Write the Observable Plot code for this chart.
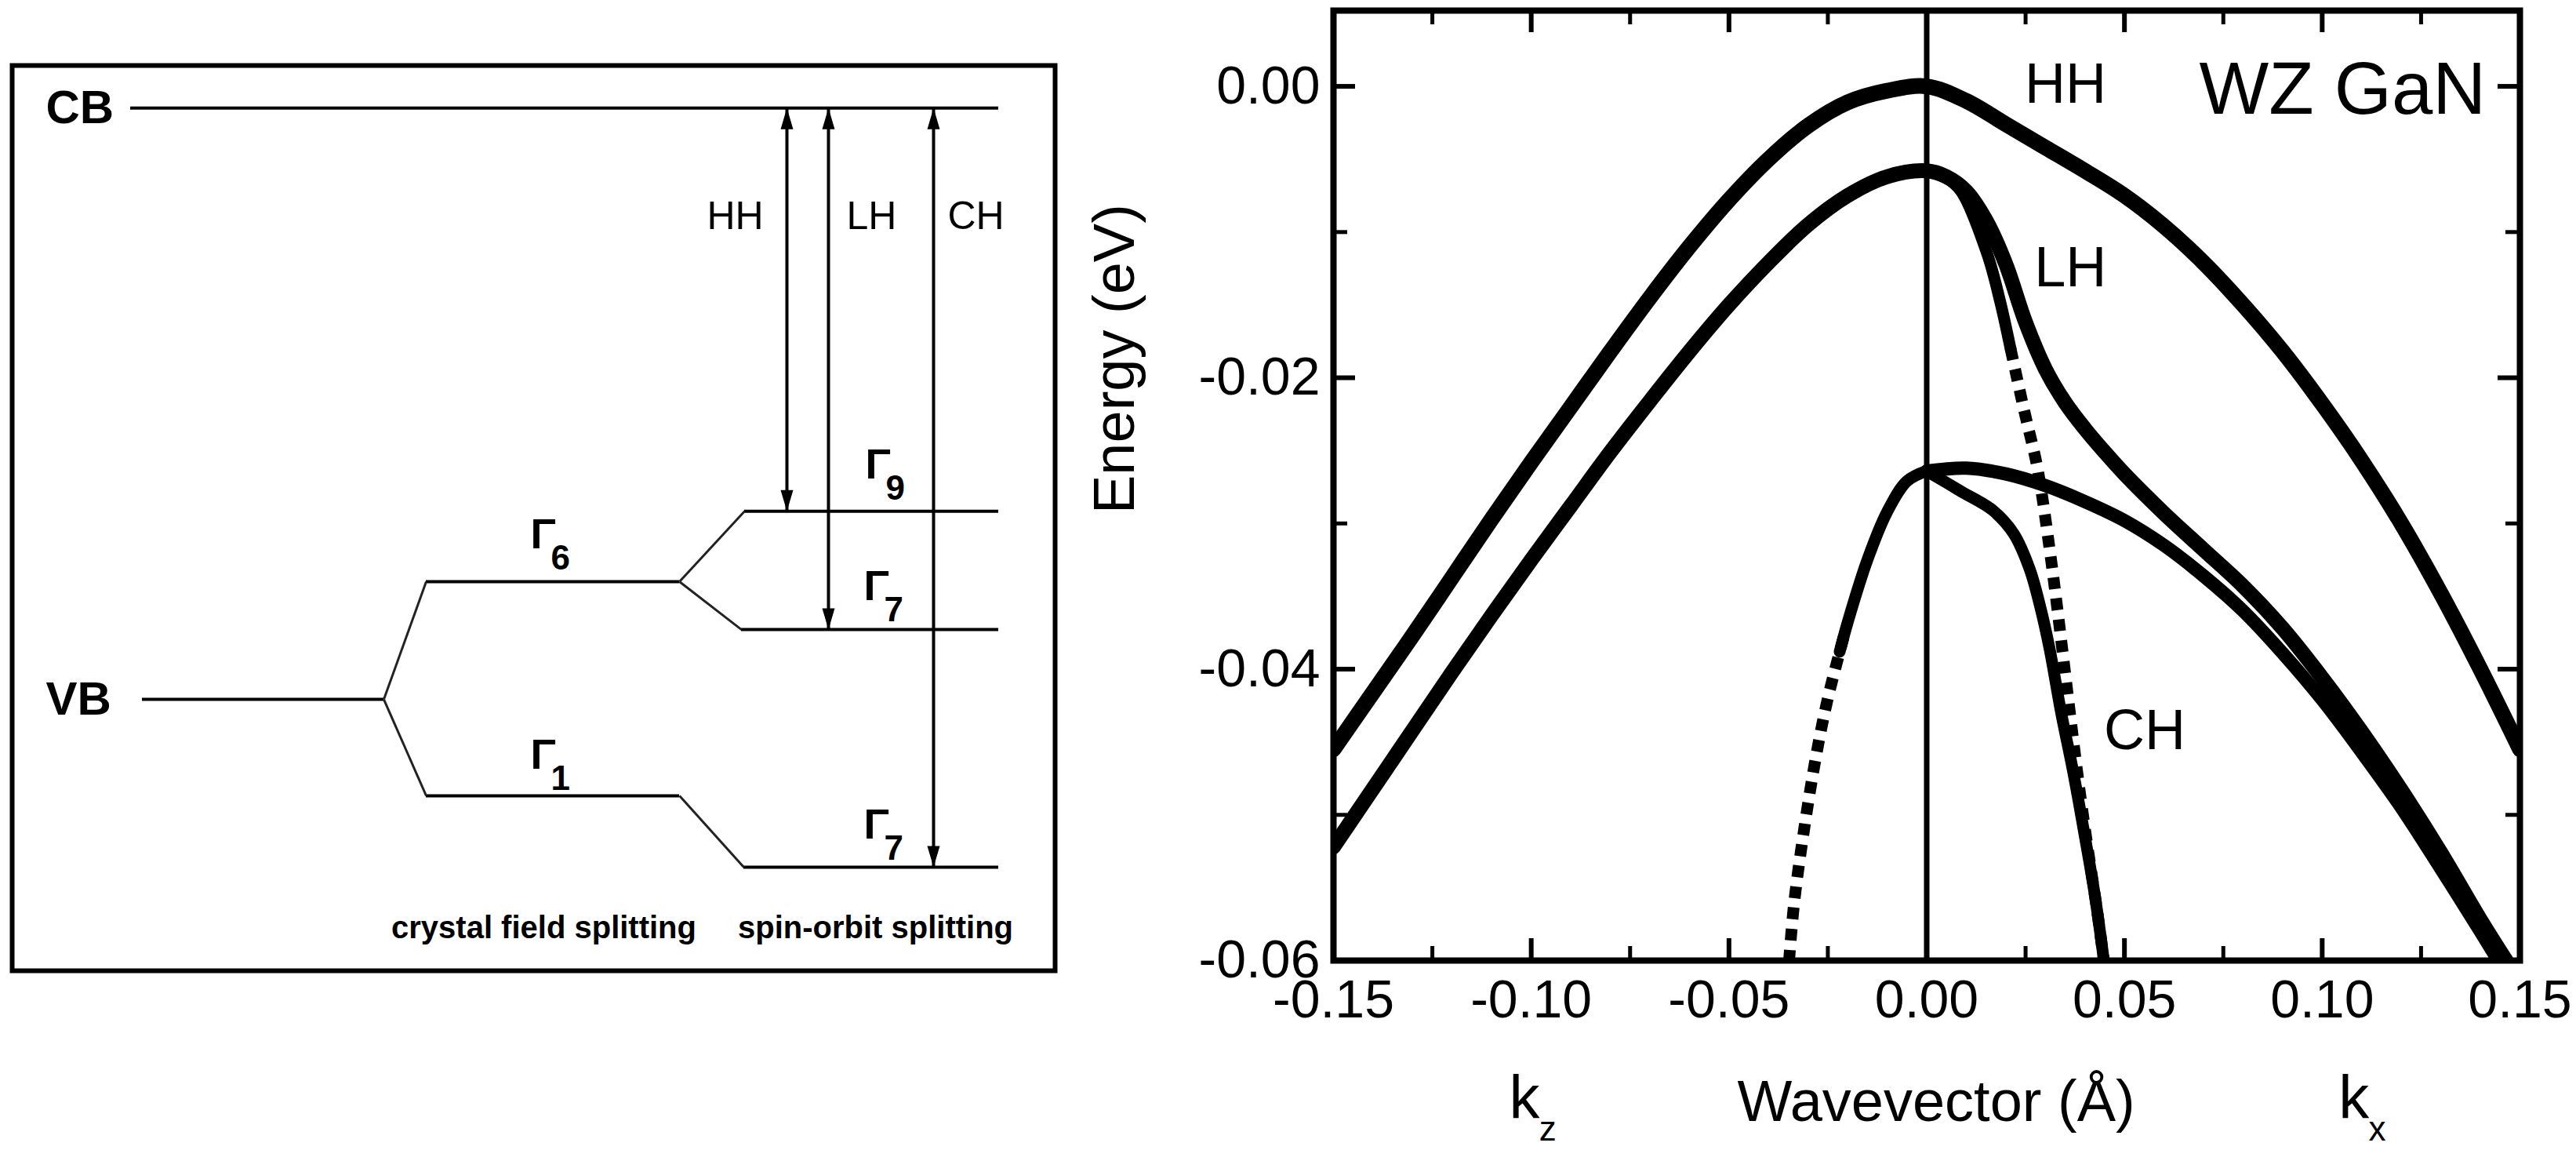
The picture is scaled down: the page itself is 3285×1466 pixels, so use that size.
<!DOCTYPE html>
<html><head><meta charset="utf-8">
<script src="https://cdn.jsdelivr.net/npm/d3@7"></script>
<script src="https://cdn.jsdelivr.net/npm/@observablehq/plot@0.6"></script>
<style>
html,body{margin:0;padding:0;background:#fff;}
#wrap{position:relative;width:3285px;height:1466px;overflow:hidden;background:#fff;}
#wrap svg{position:absolute;top:0;}
</style></head><body><div id="wrap"></div>
<script>
// ===== Left panel: schematic level diagram (diagram units; energy in arbitrary units) =====
const levelId = ["CB", "VB", "G6", "G1", "G9", "G7a", "G7b"];
const levelE  = [100, 0, 19.9, -16.3, 31.8, 11.8, -28.4];
const levelX1 = [151, 166, 528, 528, 934, 930, 933];
const levelX2 = [1258, 474, 851, 851, 1258, 1258, 1258];
const splitFrom = ["VB", "VB", "G6", "G6", "G1"];
const splitTo   = ["G6", "G1", "G9", "G7a", "G7b"];
const gapNames = ["HH", "LH", "CH"];
const gapTo    = ["G9", "G7a", "G7b"];
const gapX     = [988, 1041, 1175];
const gapLabelX = [922, 1096, 1229];
const gammaSub = ["6", "1", "9", "7", "7"];
const gammaX   = [661, 661, 1088, 1086, 1086];
const gammaE   = [25.6, -11.7, 37.3, 16.8, -23.5];
const bandNames = ["CB", "VB"];
const bandE = [100, 0];
const stageNames = ["crystal field splitting", "spin-orbit splitting"];
const stageX = [678, 1101];

// ===== Right panel: WZ GaN valence bands, [k (1/Å), E (eV)] =====
const HH = [[-0.15,-0.0455],[-0.14,-0.0416],[-0.13,-0.0377],[-0.12,-0.0337],[-0.11,-0.0297],[-0.10,-0.0258],[-0.09,-0.0220],[-0.08,-0.0182],[-0.07,-0.0145],[-0.06,-0.0110],[-0.05,-0.0078],[-0.04,-0.0050],[-0.03,-0.0027],[-0.02,-0.0011],[-0.01,-0.0003],[0,0],[0.01,-0.0010],[0.02,-0.0026],[0.03,-0.0042],[0.04,-0.0058],[0.05,-0.0075],[0.06,-0.0096],[0.07,-0.0121],[0.08,-0.0150],[0.09,-0.0182],[0.10,-0.0218],[0.11,-0.0257],[0.12,-0.0300],[0.13,-0.0348],[0.14,-0.0400],[0.15,-0.0455]];
const LH = [[-0.15,-0.0522],[-0.14,-0.0482],[-0.13,-0.0442],[-0.12,-0.0402],[-0.11,-0.0363],[-0.10,-0.0325],[-0.09,-0.0288],[-0.08,-0.0251],[-0.07,-0.0216],[-0.06,-0.0182],[-0.05,-0.0150],[-0.04,-0.0121],[-0.03,-0.0095],[-0.02,-0.0075],[-0.01,-0.0062],[0,-0.0058],[0.005,-0.0062],[0.01,-0.0072],[0.015,-0.0092],[0.02,-0.0122],[0.025,-0.0162],[0.03,-0.0194],[0.035,-0.0217],[0.04,-0.0235],[0.045,-0.0251],[0.05,-0.0266],[0.06,-0.0293],[0.07,-0.0318],[0.08,-0.0343],[0.09,-0.0372],[0.10,-0.0406],[0.11,-0.0443],[0.12,-0.0483],[0.13,-0.0526],[0.14,-0.0572],[0.1465,-0.0600]];
const CHkx = [[0,-0.0264],[0.01,-0.0262],[0.02,-0.0266],[0.03,-0.0274],[0.04,-0.0285],[0.05,-0.0298],[0.06,-0.0315],[0.07,-0.0336],[0.08,-0.0360],[0.09,-0.0389],[0.10,-0.0421],[0.11,-0.0457],[0.12,-0.0495],[0.13,-0.0537],[0.14,-0.0580],[0.1445,-0.0600]];
const CHkxInner = [[0,-0.0264],[0.0087,-0.0278],[0.0167,-0.0291],[0.022,-0.0307],[0.026,-0.0331],[0.0286,-0.0356],[0.031,-0.0385],[0.034,-0.0430],[0.037,-0.0470],[0.040,-0.0515],[0.0425,-0.0555],[0.0448,-0.0600]];
const CHkz = [[0,-0.0264],[-0.005,-0.0271],[-0.01,-0.0292],[-0.015,-0.0325],[-0.02,-0.0368],[-0.022,-0.0388]];
const dottedKz = [[-0.021,-0.0378],[-0.025,-0.0420],[-0.028,-0.0460],[-0.031,-0.0510],[-0.0335,-0.0560],[-0.0348,-0.0600]];
const splitKx = [[0,-0.0058],[0.005,-0.0063],[0.0087,-0.0072],[0.0153,-0.0115],[0.0186,-0.0148],[0.0212,-0.0180]];
const dottedKx = [[0.0212,-0.0180],[0.0246,-0.0222],[0.028,-0.0262],[0.0311,-0.0318],[0.0331,-0.0360],[0.0351,-0.0405],[0.0371,-0.0450],[0.0391,-0.0492],[0.041,-0.0528],[0.043,-0.0564],[0.0448,-0.0600]];
const xMajor = [-0.15, -0.10, -0.05, 0, 0.05, 0.10, 0.15];
const xMinor = [-0.125, -0.075, -0.025, 0.025, 0.075, 0.125];
const yMajor = [0, -0.02, -0.04, -0.06];
const yMinor = [-0.01, -0.03, -0.05];
const hhLabel = {text: "HH", k: 0.0351, e: -0.0011};
const lhLabel = {text: "LH", k: 0.0272, e: -0.0137};
const chLabel = {text: "CH", k: 0.0448, e: -0.0455};
const axisTitleX = "Wavevector (Å)";
const axisTitleY = "Energy (eV)";
const panelTitle = "WZ GaN";
const dirLetters = ["k", "k"];
const dirSubs = ["z", "x"];
const dirK = [-0.1017, 0.108];

const FONT = "Liberation Sans, Arial, Helvetica, sans-serif";
const wrap = document.getElementById("wrap");

// ---------- Left panel ----------
const levels = levelId.map((id, i) => ({id, e: levelE[i], x1: levelX1[i], x2: levelX2[i]}));
const byId = Object.fromEntries(levels.map(d => [d.id, d]));
const splits = splitFrom.map((f, i) => ({x1: byId[f].x2, y1: byId[f].e, x2: byId[splitTo[i]].x1, y2: byId[splitTo[i]].e}));
const gaps = gapNames.map((n, i) => ({name: n, x: gapX[i], top: byId.CB.e, bottom: byId[gapTo[i]].e, lx: gapLabelX[i]}));
const gammas = gammaSub.map((s, i) => ({sub: s, x: gammaX[i], e: gammaE[i]}));

// narrow filled arrowhead, tip at the origin pointing up
const arrowHead = {draw(ctx) { ctx.moveTo(0, 0); ctx.lineTo(-8, 27); ctx.lineTo(8, 27); ctx.closePath(); }};

const left = Plot.plot({
  width: 1360, height: 1466,
  marginLeft: 15, marginRight: 15, marginTop: 83, marginBottom: 229,
  x: {domain: [0, 1330], axis: null},
  y: {domain: [-45.9, 107.2], axis: null},
  style: {fontFamily: FONT, background: "transparent", color: "black"},
  marks: [
    Plot.frame({stroke: "black", strokeWidth: 6}),
    Plot.ruleY(levels, {y: "e", x1: "x1", x2: "x2", stroke: "black", strokeWidth: 4}),
    Plot.link(splits, {x1: "x1", y1: "y1", x2: "x2", y2: "y2", stroke: "#222", strokeWidth: 3}),
    Plot.ruleX(gaps, {x: "x", y1: "bottom", y2: "top", stroke: "black", strokeWidth: 4}),
    Plot.dot(gaps, {x: "x", y: "top", symbol: arrowHead, fill: "black", stroke: "none", r: 10}),
    Plot.dot(gaps, {x: "x", y: "bottom", symbol: arrowHead, fill: "black", stroke: "none", r: 10, rotate: 180}),
    Plot.text(gaps, {x: "lx", y: () => 81.7, text: "name", fontSize: 50, textAnchor: "middle", lineAnchor: "middle"}),
    Plot.text(bandNames, {x: () => 43, y: (d, i) => bandE[i], text: d => d, fontSize: 60, fontWeight: "bold", textAnchor: "start", lineAnchor: "middle"}),
    Plot.text(gammas, {x: "x", y: "e", text: () => "Γ", fontSize: 54, fontWeight: "bold", textAnchor: "start", lineAnchor: "bottom"}),
    Plot.text(gammas, {x: "x", y: "e", text: "sub", fontSize: 44, fontWeight: "bold", textAnchor: "start", lineAnchor: "bottom", dx: 26, dy: 27}),
    Plot.text(stageNames, {x: (d, i) => stageX[i], y: () => -38.7, text: d => d, fontSize: 40, fontWeight: "bold", textAnchor: "middle", lineAnchor: "middle"})
  ]
});
left.style.left = "0px";
wrap.appendChild(left);

// ---------- Right panel ----------
const W = 1905, H = 1466, mL = 320, mR = 72, mT = 13, mB = 242;
const fw = W - mL - mR, fh = H - mT - mB;
const fmt = d => d.toFixed(2);
const kx = d => d[0], en = d => d[1];
const solid = {x: kx, y: en, stroke: "black", curve: "catmull-rom", clip: true};
const dotted = {...solid, strokeWidth: 15, strokeDasharray: "15,12", strokeLinecap: "butt"};

const right = Plot.plot({
  width: W, height: H,
  marginLeft: mL, marginRight: mR, marginTop: mT, marginBottom: mB,
  x: {domain: [-0.15, 0.15], label: null},
  y: {domain: [-0.06, 0.0052], label: null},
  style: {fontFamily: FONT, background: "transparent", color: "black"},
  marks: [
    Plot.ruleX([0], {stroke: "black", strokeWidth: 7}),
    Plot.line(HH, {...solid, strokeWidth: 20}),
    Plot.line(LH, {...solid, strokeWidth: 19}),
    Plot.line(CHkx, {...solid, strokeWidth: 17}),
    Plot.line(CHkxInner, {...solid, strokeWidth: 15}),
    Plot.line(CHkz, {...solid, strokeWidth: 15}),
    Plot.line(splitKx, {...solid, strokeWidth: 15}),
    Plot.line(dottedKz, dotted),
    Plot.line(dottedKx, dotted),
    // inward ticks on all four sides
    Plot.tickY(yMajor, {y: d => d, insetRight: fw - 28, strokeWidth: 6}),
    Plot.tickY(yMinor, {y: d => d, insetRight: fw - 18, strokeWidth: 5}),
    Plot.tickY(yMajor, {y: d => d, insetLeft: fw - 28, strokeWidth: 6}),
    Plot.tickY(yMinor, {y: d => d, insetLeft: fw - 18, strokeWidth: 5}),
    Plot.tickX(xMajor, {x: d => d, insetTop: fh - 28, strokeWidth: 6}),
    Plot.tickX(xMinor, {x: d => d, insetTop: fh - 18, strokeWidth: 5}),
    Plot.tickX(xMajor, {x: d => d, insetBottom: fh - 28, strokeWidth: 6}),
    Plot.tickX(xMinor, {x: d => d, insetBottom: fh - 18, strokeWidth: 5}),
    Plot.frame({stroke: "black", strokeWidth: 8}),
    Plot.axisY(yMajor, {tickSize: 0, tickPadding: 17, tickFormat: fmt, fontSize: 68, label: null}),
    Plot.axisX(xMajor, {tickSize: 0, tickPadding: 24, tickFormat: fmt, fontSize: 68, label: null}),
    Plot.text([hhLabel], {x: "k", y: "e", text: "text", textAnchor: "middle", lineAnchor: "bottom", fontSize: 72}),
    Plot.text([lhLabel, chLabel], {x: "k", y: "e", text: "text", textAnchor: "start", lineAnchor: "bottom", fontSize: 72}),
    Plot.text([panelTitle], {x: () => 0.1414, y: () => -0.0019, text: d => d, textAnchor: "end", lineAnchor: "bottom", fontSize: 94}),
    Plot.text([axisTitleY], {frameAnchor: "left", text: d => d, rotate: -90, dx: -278, dy: 36, fontSize: 74}),
    Plot.text([axisTitleX], {x: () => 0.0024, frameAnchor: "bottom", text: d => d, lineAnchor: "bottom", dy: 204, fontSize: 74}),
    Plot.text(dirLetters, {x: (d, i) => dirK[i], frameAnchor: "bottom", text: d => d, lineAnchor: "bottom", dy: 201, fontSize: 78}),
    Plot.text(dirSubs, {x: (d, i) => dirK[i] + 0.0059, frameAnchor: "bottom", text: d => d, lineAnchor: "bottom", dy: 229, fontSize: 44})
  ]
});
right.style.left = "1380px";
wrap.appendChild(right);
</script>
</body></html>
